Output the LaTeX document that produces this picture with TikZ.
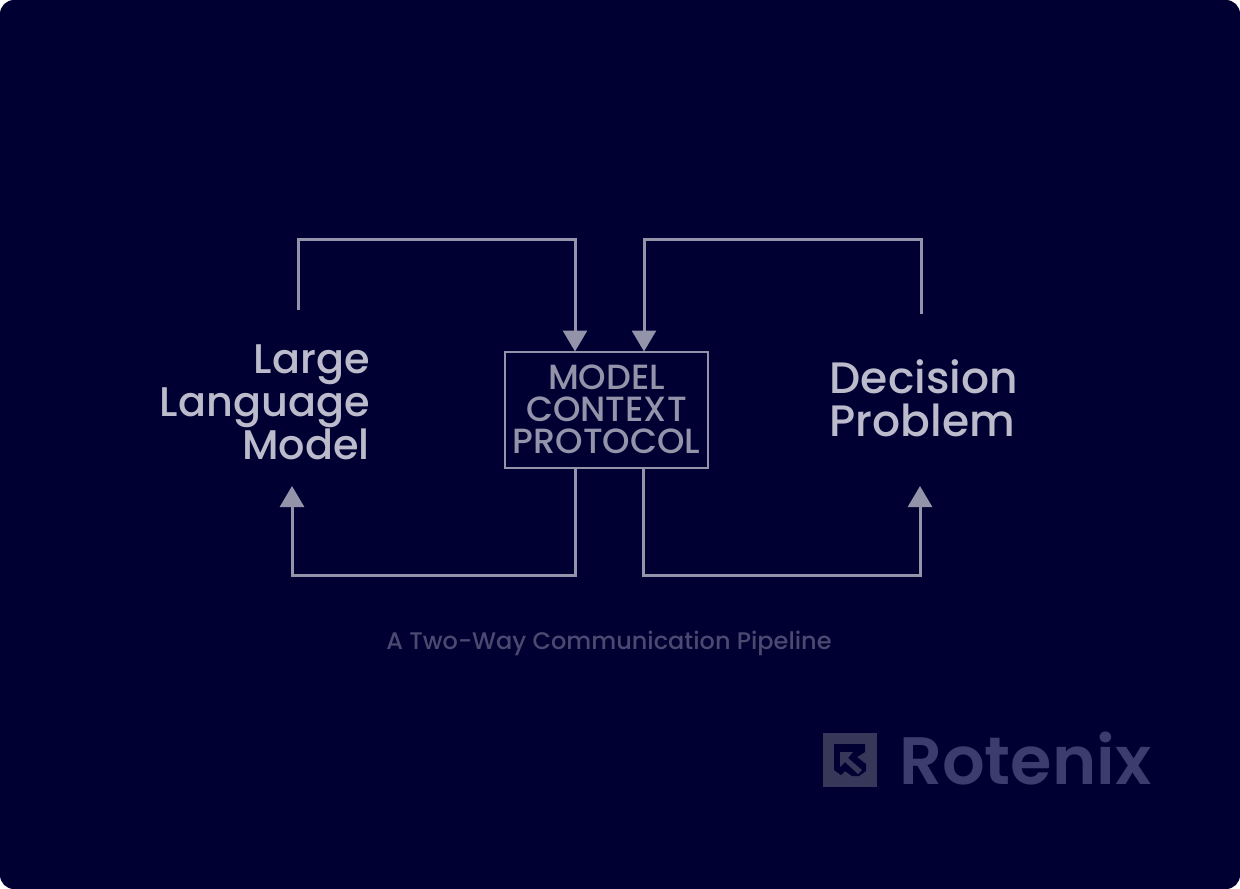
\documentclass[tikz,border=0pt]{standalone}
\usepackage{fontspec}
\setmainfont{Poppins}
\newfontfamily\medfont{Poppins Medium}
\newfontfamily\semifont{Poppins SemiBold}
\usetikzlibrary{arrows.meta}
\definecolor{mbg}{HTML}{000033}
\definecolor{mlabel}{HTML}{BBBBCC}
\definecolor{mline}{HTML}{9393AA}
\definecolor{mcaption}{HTML}{4A4A70}
\definecolor{mbrand}{HTML}{3C3C6E}
\definecolor{mbadge}{HTML}{37375A}
\tikzset{flow/.style = {draw=mline, line width=3pt, shorten >=-1pt, -{Triangle[length=21pt, width=24pt]}},
         biglabel/.style = {text=mlabel, inner sep=0pt}}

\begin{document}
\begin{tikzpicture}[x=1pt, y=-1pt]
    \fill [white] (0, 0) rectangle (1240, 889);
    \fill [mbg, rounded corners=14pt] (0, 0) rectangle (1240, 889);
    \useasboundingbox (0, 0) rectangle (1240, 889);

    \node [biglabel, align=right, anchor=east, font=\medfont\fontsize{41.4}{43}\selectfont] (llm) at (370, 402)
          {Large\\Language\\Model};
    \node [biglabel, align=left, anchor=west, font=\medfont\fontsize{44}{43}\selectfont] (dp) at (829.5, 398.5)
          {Decision\\Problem};
    \node [draw=mline, line width=2pt, minimum width=203pt, minimum height=116pt, inner sep=0pt,
           text=mline, align=center, font=\medfont\fontsize{35}{32}\selectfont] (mcp) at (606.5, 409.5)
          {MODEL\\CONTEXT\\PROTOCOL};

    \coordinate (llmout) at (298, 310);
    \coordinate (llmin) at (292, 487);
    \coordinate (dpout) at (921, 314);
    \coordinate (dpin) at (920, 487);
    \coordinate (topa) at (575, 239);
    \coordinate (topb) at (644, 239);
    \coordinate (lowa) at (575, 575);
    \coordinate (lowb) at (643, 575);

    \draw [flow] (llmout) |- (topa) -- (topa |- mcp.north);
    \draw [flow] (dpout) |- (topb) -- (topb |- mcp.north);
    \draw [flow] (lowa |- mcp.south) -- (lowa) -| (llmin);
    \draw [flow] (lowb |- mcp.south) -- (lowb) -| (dpin);

    \node [text=mcaption, inner sep=0pt, font=\medfont\fontsize{24}{24}\selectfont] (caption) at (609, 643)
          {A Two-Way Communication Pipeline};

    % badge
    \node [fill=mbadge, minimum size=54pt, inner sep=0pt] (badge) at (850, 760) {};
    \fill [mbg] (834, 744) -- (865, 744) -- (865, 752) -- (857, 757) -- (866, 764) -- (866, 771)
        -- (859, 776) -- (852, 776) -- (845, 771) -- (841, 775) -- (834, 770) -- cycle;
    \fill [mbadge] (840, 752) -- (853, 752) -- (848, 758) -- (862, 770) -- (858, 774) -- (845, 762) -- (840, 767) -- cycle;
    \node [text=mbrand, anchor=west, inner sep=0pt, font=\semifont\fontsize{67}{67}\selectfont] (brand) at (899, 759) {Rotenix};
  \end{tikzpicture}
\end{document}
